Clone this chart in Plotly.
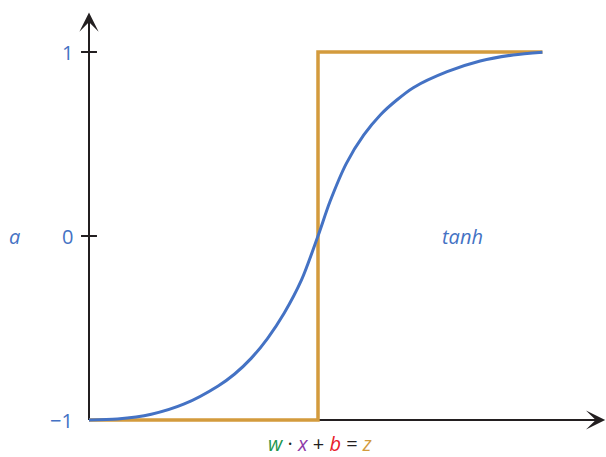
import plotly.graph_objects as go

# ---- data ----
z_vals = [-2.5, -2.19, -1.82, -1.46, -1.09, -0.91, -0.73, -0.55, -0.37, -0.18, 0.0,
          0.13, 0.31, 0.5, 0.68, 0.86, 1.04, 1.41, 1.77, 2.13, 2.45]
tanh_vals = [-1.0, -0.995, -0.969, -0.913, -0.815, -0.75, -0.665, -0.556, -0.42, -0.239, 0.0,
             0.186, 0.395, 0.549, 0.658, 0.739, 0.806, 0.893, 0.951, 0.984, 0.999]
step_z = [-2.5, 0.0, 0.0, 2.45]
step_vals = [-1.0, -1.0, 1.0, 1.0]
y_tick_vals = [1, 0, -1]
y_tick_text = ["1", "0", "\u22121"]

BLUE = "#4472C4"
ORANGE = "#D39B3D"
AXIS = "#231F20"
FONT = "Open Sans"

X_MIN, X_MAX = -3.4716, 3.144
Y_MIN, Y_MAX = -1.2011, 1.2826
X0 = -2.5        # y axis position
Y0 = -1.0        # x axis position
X_TIP = 3.135
Y_TIP = 1.215

fig = go.Figure()
fig.add_trace(go.Scatter(x=step_z, y=step_vals, mode="lines",
                         line=dict(color=ORANGE, width=3.5), hoverinfo="skip"))
fig.add_trace(go.Scatter(x=z_vals, y=tanh_vals, mode="lines",
                         line=dict(color=BLUE, width=3, shape="spline", smoothing=0.8),
                         hoverinfo="skip"))

shapes = [
    dict(type="line", x0=X0, x1=X0, y0=Y0, y1=Y_TIP - 0.05, layer="below",
         line=dict(color=AXIS, width=2)),
    dict(type="line", x0=X0, x1=X_TIP - 0.08, y0=Y0, y1=Y0, layer="below",
         line=dict(color=AXIS, width=2)),
]
for v in y_tick_vals[:2]:
    shapes.append(dict(type="line", x0=X0 - 0.087, x1=X0 + 0.087, y0=v, y1=v,
                       layer="below", line=dict(color=AXIS, width=2)))

annotations = [
    dict(x=X0, y=Y_TIP, ax=X0, ay=Y_TIP - 0.12, xref="x", yref="y", axref="x", ayref="y",
         showarrow=True, arrowhead=3, arrowsize=1.6, arrowwidth=2, arrowcolor=AXIS, text=""),
    dict(x=X_TIP, y=Y0, ax=X_TIP - 0.25, ay=Y0, xref="x", yref="y", axref="x", ayref="y",
         showarrow=True, arrowhead=3, arrowsize=1.6, arrowwidth=2, arrowcolor=AXIS, text=""),
]
for v, t in zip(y_tick_vals, y_tick_text):
    annotations.append(dict(x=-2.65, y=v, xref="x", yref="y", text=t, showarrow=False,
                            xanchor="right", yanchor="middle",
                            font=dict(family=FONT, size=20, color=BLUE)))
annotations.append(dict(x=-3.308, y=0, xref="x", yref="y", text="<i>a</i>", showarrow=False,
                        xanchor="center", yanchor="middle",
                        font=dict(family=FONT, size=20, color=BLUE)))
annotations.append(dict(x=1.572, y=0, xref="x", yref="y", text="<i>tanh</i>", showarrow=False,
                        xanchor="center", yanchor="middle",
                        font=dict(family=FONT, size=20, color=BLUE)))
xlabel = ("<span style='color:#1E9650'><i>w</i></span>"
          "<span style='color:#231F20'> \u00b7 </span>"
          "<span style='color:#8E3BA8'><i>x</i></span>"
          "<span style='color:#231F20'> + </span>"
          "<span style='color:#E8202A'><i>b</i></span>"
          "<span style='color:#231F20'> = </span>"
          "<span style='color:#D39B3D'><i>z</i></span>")
annotations.append(dict(x=0.02, y=-1.128, xref="x", yref="y", text=xlabel, showarrow=False,
                        xanchor="center", yanchor="middle", borderpad=0,
                        font=dict(family=FONT, size=20, color=AXIS)))

fig.update_layout(
    width=606, height=457,
    margin=dict(l=0, r=0, t=0, b=0),
    paper_bgcolor="white", plot_bgcolor="white",
    showlegend=False,
    xaxis=dict(range=[X_MIN, X_MAX], visible=False, fixedrange=True),
    yaxis=dict(range=[Y_MIN, Y_MAX], visible=False, fixedrange=True),
    shapes=shapes,
    annotations=annotations,
)

fig.write_html("out.html", config={"displayModeBar": False},
               post_script="document.body.style.margin='0';document.body.style.overflow='hidden';")
